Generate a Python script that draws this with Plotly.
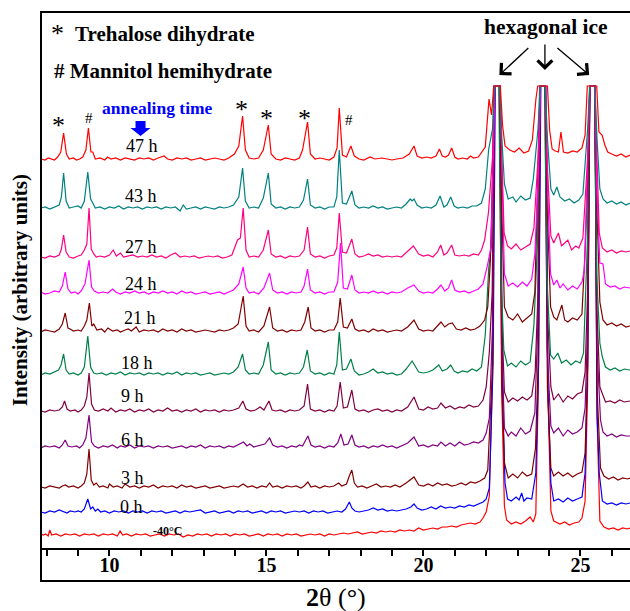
import numpy as np
import plotly.graph_objects as go

SAT = 999  # off-scale ice reflections, clipped at the top of the frame
TOP = 462  # clip level (top of the ice reflections)

LABELS = ["-40°C", "0 h", "3 h", "6 h", "9 h", "18 h", "21 h", "24 h", "27 h", "43 h", "47 h"]
COLORS = ["#FF0000", "#0000FF", "#800000", "#800080", "#800040", "#008048",
          "#800000", "#FF00FF", "#FF0080", "#008080", "#FF0000"]
OFFSETS = [12, 35, 60, 100, 136, 173, 216, 254, 290, 339, 388]

P_M40 = [(7.82,2),(7.9,1),(7.97,2),(8.05,0),(8.1,6),(8.16,1),(8.3,2),(8.45,0),(8.6,2),(8.75,1),(8.9,2),(9.05,0),(9.2,2),(9.35,1),(9.5,2),(9.65,0),(9.8,2),(9.95,1),(10.1,2),(10.25,0),(10.34,5),(10.42,1),(10.55,2),(10.7,0),(10.85,2),(11.0,1),(11.15,2),(11.3,0),(11.45,1),(11.6,2),(11.75,0),(11.9,2),(12.05,1),(12.2,2),(12.35,-1),(12.5,1),(12.65,0),(12.8,2),(12.95,1),(13.1,2),(13.25,0),(13.4,2),(13.55,1),(13.7,2),(13.85,0),(14.0,2),(14.15,1),(14.3,2),(14.45,0),(14.6,1),(14.75,2),(14.9,0),(15.05,2),(15.2,1),(15.35,2),(15.5,0),(15.65,2),(15.8,1),(15.95,2),(16.1,0),(16.25,1),(16.4,2),(16.55,1),(16.7,2),(16.85,0),(17.0,2),(17.15,1),(17.3,2),(17.45,3),(17.6,2),(17.75,3),(17.9,4),(18.05,2),(18.2,3),(18.35,4),(18.5,3),(18.65,5),(18.8,4),(18.95,5),(19.1,4),(19.25,6),(19.4,5),(19.55,6),(19.7,5),(19.85,8),(20.0,6),(20.15,7),(20.3,8),(20.45,7),(20.6,9),(20.75,9),(20.9,10),(21.05,9),(21.2,11),(21.35,12),(21.5,13),(21.65,12),(21.8,14),(21.9,18),(22.0,24),(22.1,40),(22.19,150),(22.26,SAT),(22.42,SAT),(22.49,150),(22.58,30),(22.65,16),(22.8,12),(22.95,14),(23.1,12),(23.25,15),(23.4,19),(23.5,14),(23.58,22),(23.66,150),(23.73,SAT),(23.89,SAT),(23.96,150),(24.06,25),(24.15,15),(24.35,12),(24.5,14),(24.65,11),(24.8,13),(24.95,14),(25.05,18),(25.15,35),(25.23,150),(25.3,SAT),(25.46,SAT),(25.53,120),(25.62,15),(25.75,9),(25.9,7),(26.05,8),(26.2,6),(26.35,8),(26.5,7),(26.58,8)]

P_0H = [(7.82,1),(7.95,0),(8.1,2),(8.25,1),(8.4,3),(8.55,1),(8.65,0),(8.75,2),(8.9,1),(9.0,2),(9.1,1),(9.2,4),(9.31,14),(9.4,4),(9.47,6),(9.55,2),(9.63,4),(9.72,1),(9.85,2),(10.0,0),(10.15,2),(10.3,1),(10.45,2),(10.6,0),(10.75,2),(10.9,1),(11.05,2),(11.2,0),(11.35,2),(11.5,1),(11.65,2),(11.8,0),(11.95,1),(12.1,2),(12.25,0),(12.4,2),(12.55,1),(12.7,2),(12.9,3),(13.05,0),(13.2,1),(13.35,2),(13.5,0),(13.65,1),(13.8,2),(13.95,0),(14.1,2),(14.25,1),(14.4,2),(14.55,0),(14.7,1),(14.85,2),(15.0,0),(15.15,2),(15.3,1),(15.45,2),(15.6,0),(15.75,1),(15.9,2),(16.05,1),(16.2,2),(16.35,0),(16.5,2),(16.65,1),(16.8,2),(16.95,0),(17.1,1),(17.25,2),(17.4,1),(17.52,4),(17.64,11),(17.72,5),(17.82,2),(17.95,1),(18.1,2),(18.25,3),(18.4,5),(18.55,3),(18.7,4),(18.85,2),(19.0,3),(19.15,2),(19.3,3),(19.45,4),(19.6,6),(19.7,9),(19.8,5),(19.95,3),(20.1,4),(20.25,6),(20.4,4),(20.55,7),(20.7,5),(20.85,6),(21.0,5),(21.15,7),(21.3,6),(21.45,8),(21.6,7),(21.75,9),(21.9,11),(22.0,14),(22.1,25),(22.22,150),(22.29,SAT),(22.45,SAT),(22.52,120),(22.6,30),(22.68,14),(22.8,12),(22.95,16),(23.05,13),(23.13,20),(23.2,12),(23.3,15),(23.45,14),(23.58,40),(23.67,150),(23.74,SAT),(23.9,SAT),(23.97,120),(24.06,30),(24.15,12),(24.3,14),(24.45,11),(24.6,15),(24.75,12),(24.9,14),(25.05,16),(25.15,40),(25.23,150),(25.3,SAT),(25.46,SAT),(25.53,100),(25.6,40),(25.7,12),(25.85,9),(26.0,10),(26.15,8),(26.3,10),(26.45,9),(26.58,10)]

P_3H = [(7.82,1),(7.95,0),(8.1,2),(8.25,1),(8.4,0),(8.5,2),(8.6,3),(8.7,1),(8.85,2),(9.0,0),(9.1,2),(9.2,5),(9.28,14),(9.35,39),(9.42,8),(9.5,3),(9.58,5),(9.68,1),(9.8,2),(9.95,0),(10.0,4),(10.12,1),(10.25,2),(10.4,0),(10.5,4),(10.65,1),(10.8,2),(10.95,0),(11.1,2),(11.25,1),(11.4,3),(11.55,0),(11.7,2),(11.85,1),(12.0,2),(12.15,0),(12.3,3),(12.45,1),(12.6,2),(12.75,0),(12.9,1),(13.05,2),(13.2,0),(13.35,1),(13.5,2),(13.65,0),(13.8,1),(13.95,2),(14.1,1),(14.26,4),(14.4,1),(14.55,2),(14.7,0),(14.85,2),(15.0,1),(15.1,5),(15.2,1),(15.35,2),(15.5,0),(15.65,2),(15.8,1),(15.95,2),(16.1,0),(16.2,2),(16.32,6),(16.42,1),(16.55,2),(16.7,0),(16.85,2),(17.0,1),(17.15,2),(17.3,5),(17.4,2),(17.55,4),(17.64,12),(17.72,18),(17.8,5),(17.9,1),(18.05,2),(18.2,0),(18.35,2),(18.5,4),(18.65,1),(18.8,2),(18.95,1),(19.1,3),(19.25,1),(19.45,5),(19.7,11),(19.85,3),(20.0,2),(20.15,4),(20.3,2),(20.45,5),(20.6,3),(20.75,4),(20.9,2),(21.05,3),(21.2,5),(21.35,3),(21.5,6),(21.65,5),(21.8,7),(21.95,10),(22.05,18),(22.2,120),(22.27,SAT),(22.43,SAT),(22.5,100),(22.58,25),(22.7,10),(22.85,14),(23.0,10),(23.15,16),(23.3,12),(23.45,14),(23.57,40),(23.65,120),(23.72,SAT),(23.88,SAT),(23.95,100),(24.06,20),(24.15,12),(24.3,16),(24.45,12),(24.6,15),(24.75,11),(24.9,14),(25.05,16),(25.15,35),(25.23,120),(25.3,SAT),(25.46,SAT),(25.53,100),(25.64,20),(25.75,12),(25.9,9),(26.05,11),(26.2,8),(26.35,10),(26.5,9),(26.58,10)]

P_6H = [(7.82,0),(7.95,2),(8.1,1),(8.25,2),(8.4,0),(8.5,3),(8.59,8),(8.68,2),(8.8,1),(8.95,2),(9.05,0),(9.15,3),(9.25,10),(9.35,33),(9.43,6),(9.52,2),(9.65,0),(9.8,2),(9.95,1),(10.1,3),(10.25,0),(10.35,2),(10.5,1),(10.65,3),(10.8,0),(10.95,2),(11.1,1),(11.25,2),(11.4,0),(11.55,2),(11.7,1),(11.85,2),(12.0,0),(12.15,1),(12.3,2),(12.45,0),(12.6,2),(12.75,1),(12.9,3),(13.05,0),(13.2,2),(13.35,1),(13.5,2),(13.65,0),(13.8,2),(13.95,1),(14.1,3),(14.27,6),(14.38,2),(14.47,4),(14.6,1),(14.75,2),(14.95,4),(15.1,10),(15.2,3),(15.35,1),(15.5,2),(15.65,0),(15.8,2),(15.95,1),(16.05,3),(16.15,2),(16.32,12),(16.42,3),(16.55,1),(16.7,2),(16.85,0),(17.0,2),(17.15,1),(17.27,5),(17.37,14),(17.47,3),(17.6,4),(17.72,13),(17.82,3),(17.95,1),(18.1,2),(18.25,0),(18.4,2),(18.55,1),(18.7,3),(18.85,1),(19.0,2),(19.15,0),(19.3,2),(19.5,5),(19.7,11),(19.85,2),(20.0,3),(20.15,1),(20.3,3),(20.45,2),(20.56,6),(20.7,2),(20.85,5),(21.0,2),(21.15,6),(21.3,3),(21.45,4),(21.6,6),(21.75,5),(21.9,8),(22.0,15),(22.1,30),(22.2,120),(22.27,SAT),(22.43,SAT),(22.5,100),(22.58,20),(22.7,12),(22.8,16),(22.95,12),(23.1,20),(23.25,14),(23.4,17),(23.55,35),(23.64,120),(23.71,SAT),(23.87,SAT),(23.94,100),(24.06,22),(24.15,15),(24.3,20),(24.45,12),(24.6,18),(24.75,14),(24.9,16),(25.05,20),(25.15,40),(25.23,120),(25.3,SAT),(25.46,SAT),(25.53,100),(25.64,28),(25.72,16),(25.85,12),(26.0,14),(26.15,11),(26.3,13),(26.45,12),(26.58,12)]

P_9H = [(7.82,1),(7.95,0),(8.1,2),(8.25,1),(8.4,2),(8.5,5),(8.57,11),(8.65,3),(8.75,1),(8.9,2),(9.0,0),(9.1,2),(9.2,6),(9.28,15),(9.35,39),(9.43,8),(9.52,2),(9.65,1),(9.8,3),(9.95,1),(10.05,4),(10.2,0),(10.35,2),(10.5,1),(10.65,3),(10.8,0),(10.95,2),(11.1,1),(11.25,3),(11.4,0),(11.55,2),(11.7,1),(11.85,4),(12.0,1),(12.15,2),(12.3,0),(12.45,2),(12.6,1),(12.75,3),(12.9,0),(13.05,2),(13.2,1),(13.35,2),(13.5,0),(13.65,2),(13.8,1),(13.95,2),(14.12,4),(14.25,11),(14.35,3),(14.5,1),(14.65,2),(14.8,5),(14.92,2),(15.08,11),(15.18,2),(15.3,1),(15.45,2),(15.6,0),(15.75,2),(15.9,1),(16.05,2),(16.2,6),(16.31,28),(16.4,3),(16.55,1),(16.7,2),(16.85,0),(17.0,2),(17.15,1),(17.25,6),(17.35,30),(17.45,4),(17.58,5),(17.72,22),(17.82,3),(17.95,1),(18.1,2),(18.25,0),(18.4,2),(18.55,3),(18.7,1),(18.85,2),(19.0,0),(19.15,2),(19.3,1),(19.5,5),(19.7,15),(19.85,3),(20.0,2),(20.15,5),(20.3,3),(20.45,4),(20.56,9),(20.7,4),(20.85,6),(21.0,3),(21.15,5),(21.3,4),(21.45,7),(21.6,5),(21.75,6),(21.9,12),(22.0,25),(22.1,60),(22.19,120),(22.26,SAT),(22.42,SAT),(22.49,100),(22.58,20),(22.7,10),(22.85,14),(23.0,11),(23.15,15),(23.3,12),(23.45,16),(23.56,40),(23.65,120),(23.72,SAT),(23.88,SAT),(23.95,100),(24.06,25),(24.15,12),(24.3,18),(24.45,10),(24.6,16),(24.75,13),(24.9,18),(25.05,20),(25.15,40),(25.23,120),(25.3,SAT),(25.46,SAT),(25.53,100),(25.62,25),(25.7,18),(25.8,10),(25.95,11),(26.1,9),(26.25,12),(26.4,10),(26.58,11)]

P_18H = [(7.82,0),(7.95,2),(8.1,1),(8.25,3),(8.38,5),(8.46,10),(8.54,21),(8.62,5),(8.72,1),(8.85,2),(9.0,0),(9.1,2),(9.2,8),(9.31,39),(9.4,8),(9.5,2),(9.6,1),(9.75,2),(9.9,0),(10.05,2),(10.2,1),(10.35,3),(10.5,0),(10.65,2),(10.8,1),(10.95,2),(11.1,0),(11.25,2),(11.4,1),(11.55,2),(11.7,0),(11.85,2),(12.0,1),(12.15,3),(12.3,0),(12.45,2),(12.6,1),(12.75,2),(12.9,0),(13.05,1),(13.2,2),(13.35,0),(13.5,1),(13.65,2),(13.8,1),(13.95,3),(14.1,8),(14.24,21),(14.33,5),(14.45,1),(14.6,2),(14.75,1),(14.9,10),(15.06,33),(15.15,5),(15.3,1),(15.45,2),(15.6,0),(15.75,2),(15.9,1),(16.05,2),(16.18,8),(16.3,25),(16.4,4),(16.55,1),(16.7,2),(16.85,0),(17.0,2),(17.15,1),(17.24,10),(17.32,43),(17.42,5),(17.55,6),(17.69,16),(17.8,4),(17.95,0),(18.1,1),(18.25,3),(18.4,6),(18.55,2),(18.7,3),(18.85,1),(19.0,2),(19.15,0),(19.3,1),(19.45,6),(19.64,14),(19.75,8),(19.85,3),(20.0,2),(20.15,3),(20.3,5),(20.49,10),(20.6,4),(20.75,6),(20.87,10),(20.98,4),(21.1,2),(21.25,4),(21.4,3),(21.55,6),(21.7,4),(21.85,8),(21.97,40),(22.08,107),(22.17,130),(22.24,SAT),(22.4,SAT),(22.47,100),(22.56,25),(22.68,9),(22.8,12),(22.95,8),(23.1,14),(23.25,10),(23.4,13),(23.52,50),(23.63,130),(23.7,SAT),(23.86,SAT),(23.93,100),(24.05,20),(24.15,16),(24.28,22),(24.4,12),(24.55,15),(24.7,10),(24.85,14),(25.0,12),(25.1,22),(25.22,130),(25.29,SAT),(25.45,SAT),(25.52,100),(25.62,32),(25.7,18),(25.8,8),(25.95,5),(26.1,7),(26.25,4),(26.4,6),(26.58,5)]

P_21H = [(7.82,0),(7.95,2),(8.1,1),(8.25,0),(8.4,3),(8.5,8),(8.59,19),(8.68,4),(8.75,3),(8.85,1),(9.0,2),(9.1,1),(9.2,6),(9.28,12),(9.36,29),(9.44,6),(9.5,8),(9.6,2),(9.75,3),(9.85,0),(9.95,4),(10.1,1),(10.25,2),(10.35,0),(10.5,2),(10.6,3),(10.7,1),(10.85,5),(10.95,0),(11.1,2),(11.25,1),(11.4,2),(11.55,0),(11.7,3),(11.85,1),(12.0,2),(12.15,0),(12.3,3),(12.45,1),(12.6,2),(12.75,0),(12.9,1),(13.05,2),(13.2,1),(13.35,0),(13.5,2),(13.65,1),(13.8,2),(13.95,4),(14.1,8),(14.26,36),(14.35,6),(14.45,1),(14.6,2),(14.75,0),(14.92,6),(15.1,25),(15.2,4),(15.35,1),(15.5,2),(15.65,0),(15.8,2),(15.95,1),(16.1,2),(16.22,10),(16.33,25),(16.42,4),(16.55,1),(16.7,2),(16.85,0),(17.0,2),(17.15,2),(17.27,10),(17.35,34),(17.45,5),(17.58,4),(17.72,13),(17.82,3),(17.95,1),(18.1,2),(18.25,0),(18.4,3),(18.55,1),(18.7,2),(18.85,0),(19.0,1),(19.15,2),(19.3,1),(19.5,5),(19.7,12),(19.85,3),(20.0,1),(20.15,2),(20.3,1),(20.45,6),(20.56,10),(20.68,5),(20.8,8),(20.92,9),(21.05,3),(21.2,2),(21.35,4),(21.5,2),(21.65,3),(21.8,6),(21.95,12),(22.05,25),(22.13,70),(22.2,150),(22.27,SAT),(22.43,SAT),(22.5,120),(22.58,25),(22.7,15),(22.85,12),(23.0,18),(23.15,10),(23.3,14),(23.45,18),(23.55,40),(23.65,150),(23.72,SAT),(23.88,SAT),(23.95,120),(24.05,25),(24.15,15),(24.25,12),(24.41,27),(24.5,12),(24.6,10),(24.75,14),(24.9,12),(25.05,18),(25.15,82),(25.23,150),(25.3,SAT),(25.46,SAT),(25.53,120),(25.62,30),(25.72,12),(25.85,7),(26.0,9),(26.15,6),(26.3,8),(26.45,5),(26.58,6)]

P_24H = [(7.82,2),(7.95,0),(8.1,1),(8.25,3),(8.4,2),(8.5,8),(8.59,22),(8.68,5),(8.78,1),(8.9,2),(9.0,0),(9.1,3),(9.22,10),(9.35,34),(9.43,7),(9.52,3),(9.65,1),(9.8,2),(9.95,1),(10.1,5),(10.2,2),(10.35,0),(10.5,2),(10.65,1),(10.8,3),(10.95,1),(11.1,2),(11.25,0),(11.4,2),(11.55,1),(11.7,3),(11.85,1),(12.0,2),(12.15,0),(12.3,3),(12.45,1),(12.6,2),(12.75,0),(12.9,1),(13.05,2),(13.2,0),(13.35,1),(13.5,2),(13.65,0),(13.8,2),(13.95,4),(14.12,10),(14.26,27),(14.35,6),(14.45,1),(14.6,2),(14.75,0),(14.92,6),(15.1,21),(15.2,4),(15.35,1),(15.5,2),(15.65,0),(15.8,2),(15.95,1),(16.1,2),(16.2,8),(16.31,25),(16.4,4),(16.55,1),(16.7,2),(16.85,0),(17.0,2),(17.15,2),(17.27,12),(17.36,51),(17.45,6),(17.58,5),(17.72,19),(17.82,4),(17.95,1),(18.1,2),(18.25,1),(18.4,3),(18.55,1),(18.7,2),(18.85,0),(19.0,2),(19.15,1),(19.3,2),(19.5,6),(19.7,9),(19.85,3),(20.0,1),(20.15,2),(20.3,1),(20.45,5),(20.56,9),(20.68,3),(20.8,6),(20.9,14),(21.0,4),(21.15,2),(21.3,3),(21.45,1),(21.6,3),(21.75,5),(21.9,10),(22.05,30),(22.15,47),(22.21,120),(22.28,SAT),(22.44,SAT),(22.51,100),(22.58,20),(22.7,8),(22.85,11),(23.0,7),(23.15,12),(23.3,8),(23.45,15),(23.55,40),(23.66,120),(23.73,SAT),(23.89,SAT),(23.96,100),(24.05,20),(24.15,9),(24.25,14),(24.35,6),(24.45,10),(24.6,4),(24.75,8),(24.9,5),(25.05,12),(25.13,24),(25.23,120),(25.3,SAT),(25.46,SAT),(25.53,100),(25.62,31),(25.72,30),(25.8,10),(25.95,7),(26.1,8),(26.25,5),(26.4,7),(26.58,6)]

P_27H = [(7.82,1),(7.95,0),(8.1,2),(8.25,1),(8.4,3),(8.47,9),(8.54,23),(8.62,6),(8.72,1),(8.85,0),(9.0,2),(9.1,3),(9.2,8),(9.28,14),(9.35,50),(9.42,9),(9.5,4),(9.58,1),(9.7,2),(9.85,1),(10.0,3),(10.12,8),(10.22,2),(10.35,5),(10.45,1),(10.6,2),(10.75,3),(10.9,1),(11.05,2),(11.2,1),(11.35,3),(11.5,1),(11.65,2),(11.8,0),(11.95,3),(12.1,5),(12.25,1),(12.4,2),(12.55,1),(12.7,2),(12.85,0),(13.0,1),(13.15,2),(13.3,1),(13.45,2),(13.6,0),(13.75,1),(13.9,3),(14.08,18),(14.17,20),(14.26,50),(14.35,8),(14.45,1),(14.6,2),(14.75,1),(14.9,8),(15.06,28),(15.15,4),(15.3,1),(15.45,2),(15.6,0),(15.75,2),(15.9,1),(16.05,2),(16.2,8),(16.31,31),(16.4,4),(16.55,1),(16.7,2),(16.85,0),(17.0,2),(17.15,3),(17.24,10),(17.32,45),(17.42,6),(17.55,5),(17.72,19),(17.82,4),(17.95,1),(18.1,2),(18.25,4),(18.4,2),(18.55,3),(18.7,1),(18.85,2),(19.0,1),(19.15,2),(19.3,1),(19.45,5),(19.68,12),(19.85,4),(20.0,2),(20.15,3),(20.3,1),(20.45,6),(20.55,13),(20.65,3),(20.75,5),(20.9,13),(21.0,3),(21.15,2),(21.3,3),(21.45,2),(21.6,4),(21.75,3),(21.85,8),(21.95,18),(22.07,45),(22.2,100),(22.27,SAT),(22.43,SAT),(22.5,90),(22.57,25),(22.68,12),(22.8,9),(22.95,14),(23.1,8),(23.25,11),(23.4,14),(23.52,30),(23.65,100),(23.72,SAT),(23.88,SAT),(23.95,90),(24.06,22),(24.15,15),(24.3,25),(24.4,12),(24.5,15),(24.6,18),(24.72,8),(24.85,12),(24.95,10),(25.08,20),(25.23,100),(25.3,SAT),(25.46,SAT),(25.53,90),(25.6,25),(25.7,10),(25.85,6),(26.0,8),(26.15,5),(26.3,7),(26.45,6),(26.58,7)]

P_43H = [(7.82,1),(7.95,2),(8.1,0),(8.25,2),(8.4,4),(8.47,12),(8.54,36),(8.62,8),(8.72,1),(8.85,2),(9.0,3),(9.1,1),(9.2,8),(9.31,37),(9.4,10),(9.47,6),(9.55,1),(9.7,2),(9.85,0),(10.0,2),(10.15,1),(10.3,3),(10.45,0),(10.6,2),(10.75,1),(10.9,2),(11.05,0),(11.2,2),(11.35,1),(11.5,2),(11.65,0),(11.8,2),(11.95,1),(12.1,2),(12.25,-2),(12.35,4),(12.45,0),(12.6,1),(12.75,2),(12.9,0),(13.05,2),(13.2,1),(13.35,0),(13.5,2),(13.65,1),(13.8,2),(13.95,4),(14.12,12),(14.24,41),(14.33,8),(14.45,1),(14.6,2),(14.75,1),(14.9,11),(15.06,36),(15.15,5),(15.3,1),(15.45,2),(15.6,0),(15.75,2),(15.9,1),(16.05,2),(16.18,9),(16.31,30),(16.4,4),(16.55,1),(16.7,2),(16.85,0),(17.0,2),(17.15,2),(17.24,12),(17.32,59),(17.42,6),(17.55,5),(17.72,18),(17.82,4),(17.95,1),(18.1,2),(18.25,1),(18.4,3),(18.55,1),(18.7,2),(18.85,0),(19.0,1),(19.15,2),(19.3,1),(19.45,5),(19.58,10),(19.64,8),(19.7,10),(19.8,4),(19.95,1),(20.1,2),(20.25,1),(20.4,4),(20.53,13),(20.65,2),(20.75,4),(20.87,12),(20.98,3),(21.1,1),(21.25,2),(21.4,1),(21.55,3),(21.7,3),(21.85,6),(21.97,20),(22.08,60),(22.2,80),(22.27,SAT),(22.43,SAT),(22.5,70),(22.58,25),(22.7,10),(22.85,12),(22.95,7),(23.1,13),(23.25,9),(23.4,11),(23.5,30),(23.65,80),(23.72,SAT),(23.88,SAT),(23.95,70),(24.06,20),(24.15,14),(24.25,22),(24.35,12),(24.5,8),(24.65,10),(24.8,6),(24.95,9),(25.08,15),(25.23,80),(25.3,SAT),(25.46,SAT),(25.53,70),(25.62,20),(25.72,10),(25.85,6),(26.0,8),(26.15,5),(26.3,7),(26.45,4),(26.58,6)]

P_47H = [(7.82,1),(7.95,0),(8.05,2),(8.15,1),(8.25,0),(8.35,3),(8.45,8),(8.54,27),(8.63,6),(8.72,1),(8.85,2),(8.95,0),(9.05,1),(9.15,3),(9.25,10),(9.33,32),(9.41,8),(9.47,8),(9.55,1),(9.7,2),(9.85,0),(9.94,3),(10.05,1),(10.2,2),(10.35,0),(10.5,2),(10.65,1),(10.8,0),(10.95,2),(11.1,1),(11.25,2),(11.4,0),(11.55,2),(11.74,4),(11.85,1),(12.0,0),(12.15,2),(12.3,1),(12.45,2),(12.6,0),(12.75,1),(12.9,2),(13.05,0),(13.2,1),(13.35,2),(13.5,1),(13.65,0),(13.8,2),(13.98,6),(14.12,14),(14.24,44),(14.33,10),(14.45,2),(14.6,1),(14.75,2),(14.9,10),(15.06,35),(15.15,6),(15.3,1),(15.45,0),(15.6,2),(15.75,1),(15.9,0),(16.05,2),(16.15,10),(16.31,38),(16.4,6),(16.55,1),(16.7,2),(16.85,1),(17.0,0),(17.15,3),(17.25,12),(17.32,52),(17.42,5),(17.55,3),(17.69,14),(17.8,4),(17.95,1),(18.1,0),(18.3,3),(18.45,1),(18.67,2),(18.85,1),(19.0,0),(19.15,1),(19.35,2),(19.55,6),(19.7,14),(19.8,4),(19.95,2),(20.1,3),(20.25,2),(20.4,4),(20.51,11),(20.6,4),(20.7,3),(20.8,5),(20.9,12),(21.0,3),(21.1,1),(21.25,2),(21.4,1),(21.5,4),(21.6,2),(21.75,3),(21.85,8),(21.97,13),(22.09,61),(22.17,45),(22.24,SAT),(22.45,SAT),(22.52,35),(22.6,14),(22.75,10),(22.9,8),(23.05,12),(23.2,7),(23.35,9),(23.47,20),(23.58,60),(23.64,SAT),(23.95,SAT),(24.02,30),(24.1,11),(24.2,9),(24.3,8),(24.38,28),(24.46,8),(24.6,7),(24.75,9),(24.9,8),(25.05,12),(25.15,25),(25.22,SAT),(25.52,SAT),(25.59,28),(25.69,25),(25.78,15),(25.87,8),(26.0,6),(26.15,4),(26.3,6),(26.45,3),(26.58,5)]

SERIES = [P_M40, P_0H, P_3H, P_6H, P_9H, P_18H, P_21H, P_24H, P_27H, P_43H, P_47H]

# label anchor positions (x in degrees, y in plot units)
LABEL_X = [11.85, 10.69, 10.75, 10.75, 10.75, 10.87, 10.97, 11.02, 11.02, 11.02, 11.05]
LABEL_Y = [17, 41, 70, 108, 152, 185, 230, 264, 301, 352, 402]

TICK_VALS = list(range(8, 27))
TICK_TEXT = [str(v) if v % 5 == 0 else "" for v in TICK_VALS]

SERIF = "Liberation Serif"

fig = go.Figure()
for pts, off, col, lab in zip(SERIES, OFFSETS, COLORS, LABELS):
    x = np.array([p[0] for p in pts])
    y = np.minimum(off + np.array([p[1] for p in pts], dtype=float), TOP)
    fig.add_trace(go.Scatter(x=x, y=y, mode="lines", line=dict(color=col, width=1.2),
                             name=lab, showlegend=False, hoverinfo="skip"))

ann = []
for lab, lx, ly in zip(LABELS, LABEL_X, LABEL_Y):
    if lab.startswith("-"):
        ann.append(dict(x=lx, y=ly, text="<b>" + lab + "</b>", showarrow=False,
                        font=dict(family=SERIF, size=12, color="black")))
    else:
        ann.append(dict(x=lx, y=ly, text=lab, showarrow=False,
                        font=dict(family=SERIF, size=18, color="black")))

# peak markers
for mx, my in [(8.39, 423), (14.21, 439), (14.99, 430), (16.2, 430)]:
    ann.append(dict(x=mx, y=my, text="*", showarrow=False,
                    font=dict(family=SERIF, size=26, color="black")))
for mx, my in [(9.35, 430), (17.63, 428)]:
    ann.append(dict(x=mx, y=my, text="#", showarrow=False,
                    font=dict(family=SERIF, size=15, color="black")))

# legend-like texts
ann.append(dict(x=8.35, y=515, text="*", showarrow=False,
                font=dict(family=SERIF, size=26, color="black")))
ann.append(dict(x=8.84, y=513.7, xanchor="left", text="<b>Trehalose dihydrate</b>", showarrow=False,
                font=dict(family=SERIF, size=21, color="black")))
ann.append(dict(x=8.16, y=477, xanchor="left", text="<b># Mannitol hemihydrate</b>", showarrow=False,
                font=dict(family=SERIF, size=21, color="black")))
ann.append(dict(x=11.53, y=440, text="<b>annealing time</b>", showarrow=False,
                font=dict(family=SERIF, size=17.5, color="#0000FF")))
ann.append(dict(x=23.90, y=521, text="<b>hexagonal ice</b>", showarrow=False,
                font=dict(family=SERIF, size=21.5, color="black")))
for (hx, hy, tx, ty) in [(22.42, 473, 23.39, 501.3), (23.87, 478, 23.87, 505), (25.28, 473, 24.22, 501.3)]:
    ann.append(dict(x=hx, y=hy, ax=tx, ay=ty, axref="x", ayref="y", text="", showarrow=True,
                    arrowhead=4, arrowsize=2.2, arrowwidth=1.3, arrowcolor="black"))

# axis titles
ann.append(dict(xref="paper", yref="paper", x=0.5, y=-0.093, yanchor="middle",
                text="<b>2</b>θ (<b>°</b>)", showarrow=False,
                font=dict(family=SERIF, size=26, color="black")))
ann.append(dict(xref="paper", yref="paper", x=-0.0357, y=0.481, xanchor="center", yanchor="middle",
                textangle=-90, text="<b>Intensity (arbitrary units)</b>", showarrow=False,
                font=dict(family=SERIF, size=21, color="black")))

shapes = [
    dict(type="rect", xref="paper", yref="paper", x0=0, x1=1.05, y0=-33 / 536, y1=1,
         line=dict(color="black", width=2), fillcolor="rgba(0,0,0,0)", layer="above"),
    dict(type="path", xref="x", yref="y",
         path="M 10.83 427 L 11.15 427 L 11.15 420 L 11.31 420 L 10.99 412 L 10.67 420 L 10.83 420 Z",
         fillcolor="#0000FF", line=dict(color="#0000FF", width=0)),
]

fig.update_layout(
    width=630, height=611,
    margin=dict(l=41, r=0, t=12, b=63),
    paper_bgcolor="white", plot_bgcolor="white",
    annotations=ann, shapes=shapes,
    xaxis=dict(range=[7.82, 26.58], tickvals=TICK_VALS, ticktext=TICK_TEXT,
               ticks="outside", ticklen=6, tickwidth=1.5, tickcolor="black",
               ticklabelstandoff=-8,
               showline=True, linecolor="black", linewidth=1.5, showgrid=False, zeroline=False,
               tickfont=dict(family=SERIF, size=20, color="black", weight="bold")),
    yaxis=dict(range=[0, 536], visible=False, showgrid=False, zeroline=False),
)

fig.write_html("out.html")
